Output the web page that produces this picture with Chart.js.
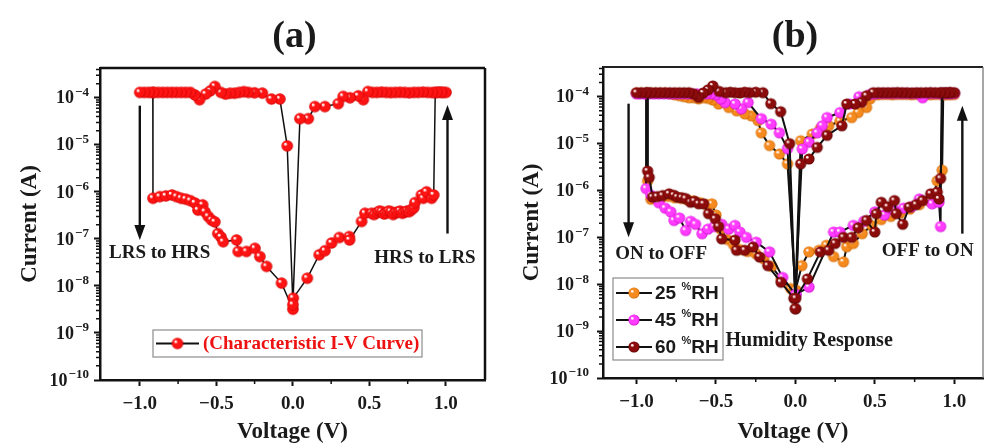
<!DOCTYPE html>
<html><head><meta charset="utf-8">
<script src="https://cdn.jsdelivr.net/npm/chart.js@4.4.1/dist/chart.umd.min.js"></script>
<style>
html,body{margin:0;padding:0;background:#fff;}
#wrap{position:relative;width:990px;height:444px;overflow:hidden;background:#fff;}
canvas{position:absolute;top:0;}
#ca{left:0;} #cb{left:495px;}
</style></head><body>
<div id="wrap"><canvas id="ca" width="495" height="444"></canvas><canvas id="cb" width="495" height="444"></canvas></div>
<script>
// ---------------- data ----------------
const xTickValues = [-1.0, -0.5, 0.0, 0.5, 1.0];
const xTickLabels = ['\u22121.0', '\u22120.5', '0.0', '0.5', '1.0'];
const minorXTicks = [-0.75, -0.25, 0.25, 0.75];
const yTickValues = [1e-10, 1e-9, 1e-8, 1e-7, 1e-6, 1e-5, 1e-4];
const yTickBase = '10';
const yTickExps = ['\u221210', '\u22129', '\u22128', '\u22127', '\u22126', '\u22125', '\u22124'];
const minorYMult = [2, 3, 4, 5, 6, 7, 8, 9];
const xTitle = 'Voltage (V)';
const yTitle = 'Current (A)';

// Panel (a): single I-V loop
const labelA = '(Characteristic I-V Curve)';
const voltageA = [
 -0.915,
 -0.914,-0.87,-0.83,-0.79,-0.76,-0.73,-0.70,-0.67,-0.64,-0.59,-0.62,-0.575,-0.553,-0.531,-0.51,-0.49,-0.47,-0.455,-0.368,-0.357,-0.303,-0.248,-0.216,-0.172,-0.074,0.0,
 0.002,0.094,0.172,0.209,0.253,0.303,0.368,0.37,0.449,0.471,0.514,0.53,0.55,0.565,0.58,0.595,0.61,0.625,0.64,0.655,0.67,0.685,0.70,0.715,0.73,0.745,0.76,0.775,0.79,0.797,0.84,0.852,0.873,0.906,0.92,
 0.93,0.955,0.98,1.0,0.97,0.94,0.91,0.88,0.85,0.82,0.79,0.76,0.73,0.70,0.67,0.64,0.61,0.58,0.55,0.52,0.49,0.46,0.427,0.373,0.329,0.296,0.209,0.144,0.1,0.046,
 0.0,
 -0.037,-0.085,-0.14,-0.2,-0.25,-0.29,-0.32,-0.35,-0.38,-0.41,-0.44,-0.47,-0.51,-0.54,-0.57,-0.61,-0.64,-0.67,-0.70,-0.73,-0.76,-0.79,-0.82,-0.85,-0.88,-0.91,-0.94,-0.97,-1.0
];
const currentA = [
 1.3e-4,
 7.3e-7,7.9e-7,8.2e-7,8.6e-7,7.9e-7,7.3e-7,7.0e-7,6.5e-7,5.8e-7,5.3e-7,4.1e-7,3.8e-7,3.0e-7,2.5e-7,2.3e-7,1.3e-7,1.1e-7,8.7e-8,9.5e-8,5.4e-8,5.4e-8,6.3e-8,4.2e-8,2.6e-8,1.15e-8,3.2e-9,
 5.5e-9,1.46e-8,4.6e-8,5.6e-8,8.2e-8,1.07e-7,1.12e-7,9.5e-8,2.35e-7,3.5e-7,3.5e-7,3.3e-7,3.6e-7,3.9e-7,3.8e-7,3.4e-7,3.5e-7,3.9e-7,3.8e-7,3.3e-7,3.6e-7,3.7e-7,3.9e-7,3.5e-7,3.7e-7,3.9e-7,3.8e-7,4.2e-7,4.6e-7,5.9e-7,8.6e-7,7.3e-7,1.0e-6,7.3e-7,8.6e-7,
 1.3e-4,1.32e-4,1.3e-4,1.3e-4,1.31e-4,1.3e-4,1.29e-4,1.3e-4,1.32e-4,1.3e-4,1.3e-4,1.28e-4,1.3e-4,1.31e-4,1.3e-4,1.29e-4,1.3e-4,1.32e-4,1.3e-4,1.3e-4,1.36e-4,9.1e-5,1.1e-4,1.0e-4,1.07e-4,7.5e-5,6.5e-5,6.5e-5,3.6e-5,3.6e-5,
 4.0e-9,
 9.5e-6,9.4e-5,9.4e-5,1.26e-4,1.28e-4,1.3e-4,1.35e-4,1.3e-4,1.25e-4,1.25e-4,1.2e-4,1.3e-4,1.74e-4,1.4e-4,1.2e-4,9.1e-5,1.15e-4,1.3e-4,1.3e-4,1.3e-4,1.3e-4,1.3e-4,1.3e-4,1.3e-4,1.3e-4,1.3e-4,1.3e-4,1.3e-4,1.3e-4
];

// Panel (b): humidity response
const labelsB = ['25 %RH', '45 %RH', '60 %RH'];
const voltage25 = [
 -0.93,
 -0.93,-0.91,-0.88,-0.84,-0.80,-0.76,-0.72,-0.68,-0.64,-0.60,-0.56,-0.526,-0.50,-0.47,-0.43,-0.39,-0.35,-0.30,-0.25,-0.20,-0.15,-0.09,-0.03,0.0,
 0.0,0.04,0.085,0.147,0.195,0.24,0.302,0.323,0.364,0.42,0.48,0.54,0.60,0.66,0.72,0.78,0.84,0.87,0.892,0.923,
 0.93,0.955,0.98,1.0,0.97,0.94,0.91,0.88,0.85,0.82,0.79,0.76,0.73,0.70,0.67,0.64,0.61,0.58,0.55,0.52,0.49,
 0.47,0.447,0.395,0.354,0.28,0.209,0.157,0.106,0.033,
 0.0,
 -0.05,-0.101,-0.163,-0.215,-0.236,-0.278,-0.319,-0.37,-0.42,-0.484,-0.52,-0.55,-0.58,-0.61,-0.64,-0.67,-0.70,-0.73,-0.76,-0.79,-0.82,-0.85,-0.88,-0.91,-0.94,-0.97,-1.0
];
const current25 = [
 1.2e-4,
 1.6e-6,6.5e-7,6.8e-7,7.2e-7,7.5e-7,7.0e-7,6.8e-7,6.3e-7,6.0e-7,5.5e-7,5.0e-7,5.2e-7,3.0e-7,1.5e-7,9.0e-8,7.0e-8,5.5e-8,5.0e-8,4.5e-8,3.5e-8,2.4e-8,1.3e-8,8.1e-9,7.4e-9,
 7.4e-9,2.5e-8,4.9e-8,5.3e-8,6.8e-8,3.9e-8,3.0e-8,6.3e-8,7.4e-8,1.2e-7,1.8e-7,2.4e-7,2.8e-7,3.3e-7,4.0e-7,5.0e-7,6.0e-7,8.0e-7,1.6e-6,2.7e-6,
 1.12e-4,1.12e-4,1.12e-4,1.12e-4,1.12e-4,1.1e-4,1.12e-4,1.12e-4,1.1e-4,1.12e-4,1.12e-4,1.12e-4,1.1e-4,1.12e-4,1.12e-4,1.12e-4,1.1e-4,1.12e-4,1.12e-4,1.1e-4,1.1e-4,
 9.0e-5,5.9e-5,4.6e-5,3.6e-5,3.0e-5,2.4e-5,2.1e-5,1.6e-5,1.15e-5,
 7.4e-9,
 3.7e-6,6.0e-6,9.1e-6,1.7e-5,3.1e-5,3.9e-5,4.3e-5,5.0e-5,5.9e-5,7.0e-5,8.5e-5,9.2e-5,9.5e-5,9.0e-5,9.5e-5,9.5e-5,1.0e-4,1.05e-4,1.1e-4,1.15e-4,1.2e-4,1.2e-4,1.2e-4,1.2e-4,1.2e-4,1.2e-4,1.2e-4
];
const voltage45 = [
 -0.94,
 -0.94,-0.909,-0.86,-0.82,-0.785,-0.764,-0.73,-0.691,-0.66,-0.629,-0.588,-0.55,-0.51,-0.464,-0.42,-0.381,-0.35,-0.309,-0.247,-0.163,-0.081,0.0,
 0.003,0.085,0.24,0.28,0.364,0.43,0.5,0.56,0.62,0.68,0.73,0.78,0.86,0.903,0.913,
 0.92,0.95,0.975,1.0,0.97,0.94,0.91,0.88,0.85,0.82,0.80,0.77,0.74,0.71,0.68,0.65,0.62,0.59,0.56,0.53,0.50,0.47,
 0.40,0.34,0.28,0.199,0.168,0.137,0.085,0.043,
 0.0,
 -0.05,-0.101,-0.153,-0.215,-0.298,-0.34,-0.38,-0.443,-0.47,-0.50,-0.53,-0.56,-0.59,-0.62,-0.65,-0.68,-0.71,-0.74,-0.77,-0.80,-0.83,-0.86,-0.89,-0.92,-0.95,-0.98,-1.0
];
const current45 = [
 1.15e-4,
 1.1e-6,7.9e-7,5.5e-7,4.2e-7,3.5e-7,2.3e-7,2.6e-7,1.4e-7,2.2e-7,1.9e-7,1.2e-7,1.5e-7,1.7e-7,1.9e-7,1.5e-7,1.8e-7,1.3e-7,1.0e-7,7.9e-8,4.9e-8,1.4e-8,6.0e-9,
 6.0e-9,8.7e-9,1.3e-7,1.3e-7,1.8e-7,2.2e-7,3.5e-7,3.0e-7,3.8e-7,4.2e-7,4.5e-7,6.6e-7,5.2e-7,5.6e-7,1.7e-7,
 1.18e-4,1.18e-4,1.18e-4,1.18e-4,1.18e-4,1.18e-4,1.18e-4,1.18e-4,1.18e-4,1.18e-4,9.5e-5,1.18e-4,1.18e-4,1.18e-4,1.18e-4,1.18e-4,1.18e-4,1.18e-4,1.18e-4,1.18e-4,1.15e-4,1.12e-4,
 1.0e-4,7.0e-5,4.6e-5,3.6e-5,2.4e-5,1.7e-5,1.07e-5,7.7e-6,
 6.0e-9,
 7.8e-6,1.7e-5,2.6e-5,3.4e-5,7.5e-5,5.5e-5,7.0e-5,7.5e-5,9.0e-5,1.1e-4,1.15e-4,1.15e-4,1.15e-4,1.15e-4,1.15e-4,1.15e-4,1.15e-4,1.15e-4,1.15e-4,1.15e-4,1.15e-4,1.15e-4,1.15e-4,1.15e-4,1.15e-4,1.15e-4,1.15e-4
];
const voltage60 = [
 -0.93,
 -0.93,-0.92,-0.899,-0.87,-0.836,-0.795,-0.765,-0.743,-0.715,-0.691,-0.66,-0.635,-0.609,-0.578,-0.547,-0.505,-0.484,-0.464,-0.381,-0.371,-0.319,-0.267,-0.226,-0.174,-0.091,-0.01,0.0,
 0.002,0.075,0.157,0.209,0.25,0.302,0.354,0.395,0.447,0.499,0.509,0.54,0.58,0.623,0.634,0.675,0.716,0.76,0.80,0.851,0.892,0.903,0.913,
 0.925,0.95,0.975,1.0,0.97,0.94,0.91,0.88,0.85,0.82,0.79,0.76,0.73,0.70,0.67,0.64,0.61,0.58,0.55,0.52,0.49,
 0.447,0.416,0.375,0.323,0.292,0.199,0.137,0.085,0.033,
 0.0,
 -0.037,-0.093,-0.155,-0.205,-0.25,-0.29,-0.32,-0.35,-0.38,-0.41,-0.44,-0.48,-0.52,-0.55,-0.58,-0.61,-0.64,-0.67,-0.70,-0.73,-0.76,-0.79,-0.82,-0.85,-0.88,-0.91,-0.94,-0.97,-1.0
];
const current60 = [
 1.22e-4,
 2.6e-6,1.9e-6,7.2e-7,7.4e-7,7.8e-7,8.5e-7,7.9e-7,7.2e-7,7.0e-7,6.7e-7,5.6e-7,5.9e-7,5.2e-7,5.2e-7,3.2e-7,2.5e-7,1.7e-7,9.3e-8,8.7e-8,5.3e-8,5.3e-8,6.2e-8,3.8e-8,2.5e-8,1.1e-8,5.0e-9,3.0e-9,
 5.0e-9,1.3e-8,4.9e-8,5.3e-8,7.4e-8,1.0e-7,1.0e-7,1.6e-7,2.3e-7,1.3e-7,3.2e-7,5.6e-7,4.5e-7,6.1e-7,3.2e-7,1.9e-7,4.4e-7,5.0e-7,6.1e-7,8.5e-7,9.2e-7,6.6e-7,1.8e-6,
 1.22e-4,1.22e-4,1.23e-4,1.22e-4,1.22e-4,1.21e-4,1.22e-4,1.22e-4,1.23e-4,1.22e-4,1.22e-4,1.22e-4,1.21e-4,1.22e-4,1.22e-4,1.23e-4,1.22e-4,1.22e-4,1.22e-4,1.22e-4,1.22e-4,
 1.05e-4,7.6e-5,7.0e-5,7.0e-5,2.4e-5,1.5e-5,8.3e-6,4.7e-6,3.7e-6,
 3.0e-9,
 1.0e-5,4.8e-5,7.1e-5,1.22e-4,1.25e-4,1.22e-4,1.25e-4,1.2e-4,1.22e-4,1.25e-4,1.22e-4,1.3e-4,1.7e-4,1.4e-4,1.2e-4,9.7e-5,1.15e-4,1.22e-4,1.22e-4,1.22e-4,1.22e-4,1.22e-4,1.22e-4,1.22e-4,1.22e-4,1.22e-4,1.22e-4,1.22e-4,1.22e-4
];

// ---------------- helpers ----------------
const SERIF = '"Liberation Serif", "Times New Roman", Times, serif';
const SANS = '"Liberation Sans", Arial, Helvetica, sans-serif';
const INK = '#1a1a1a';

function sphere(base, edge, hi, r) {
  const s = Math.ceil(r * 2 + 2);
  const c = document.createElement('canvas');
  c.width = s; c.height = s;
  const g = c.getContext('2d');
  const cx = s / 2, cy = s / 2;
  const grad = g.createRadialGradient(cx - r * 0.35, cy - r * 0.35, r * 0.05, cx, cy, r);
  grad.addColorStop(0, hi);
  grad.addColorStop(0.3, base);
  grad.addColorStop(0.8, base);
  grad.addColorStop(1, edge);
  g.fillStyle = grad;
  g.beginPath(); g.arc(cx, cy, r, 0, Math.PI * 2); g.fill();
  g.fillStyle = 'rgba(255,240,240,0.9)';
  g.beginPath(); g.arc(cx - r * 0.32, cy - r * 0.32, r * 0.22, 0, Math.PI * 2); g.fill();
  return c;
}
function pts(v, c) {
  const n = Math.min(v.length, c.length);
  if (v.length !== c.length) console.warn('length mismatch', v.length, c.length);
  const out = [];
  for (let i = 0; i < n; i++) out.push({x: v[i], y: c[i]});
  return out;
}

function makeScales(o) {
  return {
    x: {
      type: 'linear', min: o.xmin, max: o.xmax,
      afterBuildTicks: s => { s.ticks = xTickValues.map(v => ({value: v})); },
      afterFit: s => { s.height = o.xHeight; },
      ticks: {
        callback: v => { const i = xTickValues.indexOf(v); return i >= 0 ? xTickLabels[i] : ''; },
        font: {family: SERIF, size: 19, weight: 'bold'}, color: INK, padding: 7, maxRotation: 0, autoSkip: false
      },
      grid: {display: true, drawOnChartArea: false, drawTicks: true, tickLength: 6, tickWidth: 2, tickColor: '#111'},
      border: {display: true, width: 2.5, color: '#111'},
      title: {display: true, text: xTitle, font: {family: SERIF, size: 23, weight: 'bold', lineHeight: 1}, color: INK, padding: {top: 0, bottom: 0}}
    },
    y: {
      type: 'logarithmic', min: 1e-10, max: 4.3e-4,
      afterBuildTicks: s => { s.ticks = yTickValues.map(v => ({value: v})); },
      afterFit: s => { s.width = o.yWidth; },
      ticks: {
        // labels are laid out by Chart.js and painted (with a true superscript) by the overlay plugin
        callback: v => { const i = yTickValues.indexOf(v); return i >= 0 ? yTickBase + yTickExps[i] : ''; },
        font: {family: SERIF, size: 18, weight: 'bold'}, color: 'rgba(0,0,0,0)', padding: o.yPad, autoSkip: false
      },
      grid: {display: true, drawOnChartArea: false, drawTicks: true, tickLength: 6, tickWidth: 2, tickColor: '#111'},
      border: {display: true, width: 2.5, color: '#111'},
      title: {display: true, text: yTitle, font: {family: SERIF, size: 23, weight: 'bold', lineHeight: 1}, color: INK, padding: {top: o.yTitlePad, bottom: 0}}
    }
  };
}

function makeOverlay(cfg) {
  return {
    id: 'overlay',
    afterDraw(chart) {
      const {ctx, chartArea: ca} = chart;
      const xs = chart.scales.x, ys = chart.scales.y;
      ctx.save();
      // minor ticks
      ctx.strokeStyle = '#111'; ctx.lineWidth = 1.5;
      ctx.beginPath();
      minorXTicks.forEach(v => { const px = xs.getPixelForValue(v); ctx.moveTo(px, ca.bottom); ctx.lineTo(px, ca.bottom + 4); });
      yTickValues.forEach(d => minorYMult.forEach(m => {
        const v = d * m; if (v < ys.max) { const py = ys.getPixelForValue(v); ctx.moveTo(ca.left - 4, py); ctx.lineTo(ca.left, py); }
      }));
      ctx.stroke();
      // y tick labels: 10 with superscript exponent
      ctx.fillStyle = INK; ctx.textAlign = 'left'; ctx.textBaseline = 'middle';
      yTickValues.forEach((v, i) => {
        const py = ys.getPixelForValue(v);
        ctx.font = 'bold 18px ' + SERIF; const wb = ctx.measureText(yTickBase).width;
        ctx.font = 'bold 13px ' + SERIF; const we = ctx.measureText(yTickExps[i]).width;
        const R = ca.left - cfg.yLabelGap;
        ctx.font = 'bold 18px ' + SERIF; ctx.fillText(yTickBase, R - wb - we - 1, py + 1);
        ctx.font = 'bold 13px ' + SERIF; ctx.fillText(yTickExps[i], R - we, py - 5);
      });
      // frame top / right
      ctx.strokeStyle = cfg.frameTop.color; ctx.lineWidth = cfg.frameTop.width;
      ctx.beginPath(); ctx.moveTo(ca.left, ca.top); ctx.lineTo(ca.right, ca.top); ctx.stroke();
      ctx.strokeStyle = cfg.frameRight.color; ctx.lineWidth = cfg.frameRight.width;
      ctx.beginPath(); ctx.moveTo(ca.right, ca.top); ctx.lineTo(ca.right, ca.bottom); ctx.stroke();
      // panel title
      ctx.fillStyle = INK; ctx.font = 'bold 38px ' + SERIF; ctx.textAlign = 'center'; ctx.textBaseline = 'middle';
      ctx.fillText(cfg.title, (ca.left + ca.right) / 2 + 2, 37);
      // arrows
      cfg.arrows.forEach(a => {
        const px = xs.getPixelForValue(a.x), p0 = ys.getPixelForValue(a.from), p1 = ys.getPixelForValue(a.to);
        const dir = Math.sign(p1 - p0), head = 15, hw = 5.5;
        ctx.strokeStyle = '#111'; ctx.lineWidth = 2.4;
        ctx.beginPath(); ctx.moveTo(px, p0); ctx.lineTo(px, p1 - dir * head * 0.7); ctx.stroke();
        ctx.fillStyle = '#111';
        ctx.beginPath(); ctx.moveTo(px, p1); ctx.lineTo(px - hw, p1 - dir * head); ctx.lineTo(px + hw, p1 - dir * head); ctx.closePath(); ctx.fill();
      });
      // notes
      cfg.notes.forEach(n => {
        ctx.font = 'bold ' + n.size + 'px ' + SERIF; ctx.fillStyle = INK;
        ctx.textAlign = n.align; ctx.textBaseline = 'middle';
        ctx.fillText(n.text, xs.getPixelForValue(n.x), ys.getPixelForValue(n.y));
      });
      // legend
      const L = cfg.legend;
      const x0 = ca.left + L.dx, y0 = ca.top + L.dy;
      ctx.fillStyle = '#fff'; ctx.fillRect(x0, y0, L.w, L.h);
      ctx.strokeStyle = '#8c8c8c'; ctx.lineWidth = 1.2; ctx.strokeRect(x0, y0, L.w, L.h);
      const dss = chart.data.datasets;
      dss.forEach((ds, i) => {
        const cy = y0 + L.rows[i];
        ctx.strokeStyle = '#111'; ctx.lineWidth = 2.2;
        ctx.beginPath(); ctx.moveTo(x0 + L.l0, cy); ctx.lineTo(x0 + L.l1, cy); ctx.stroke();
        const sp = ds.pointStyle;
        ctx.drawImage(sp, x0 + (L.l0 + L.l1) / 2 - sp.width / 2, cy - sp.height / 2);
        ctx.textAlign = 'left'; ctx.textBaseline = 'middle'; ctx.fillStyle = L.color;
        if (L.split) {
          const parts = ds.label.split('%');
          ctx.font = 'bold ' + L.size + 'px ' + L.font;
          let tx = x0 + L.tx;
          ctx.fillText(parts[0], tx, cy + 1); tx += ctx.measureText(parts[0]).width;
          ctx.font = 'bold 11px ' + L.font;
          ctx.fillText('%', tx, cy - 6); tx += ctx.measureText('%').width;
          ctx.font = 'bold ' + L.size + 'px ' + L.font;
          ctx.fillText(parts[1], tx, cy + 1);
        } else {
          ctx.font = 'bold ' + L.size + 'px ' + L.font;
          ctx.fillText(ds.label, x0 + L.tx, cy + 1);
        }
      });
      ctx.restore();
    }
  };
}

const common = {
  responsive: false, animation: false, devicePixelRatio: 1, events: [],
  plugins: {legend: {display: false}, tooltip: {enabled: false}, title: {display: false}}
};

// ---------------- chart (a) ----------------
const redBall = sphere('#ff1414', '#c80000', '#ffd6d6', 5.8);
new Chart(document.getElementById('ca'), {
  type: 'line',
  data: {datasets: [{
    label: labelA, data: pts(voltageA, currentA),
    borderColor: '#111', borderWidth: 1.5, pointStyle: redBall, pointRadius: 5, pointHoverRadius: 5, fill: false, tension: 0
  }]},
  options: Object.assign({}, common, {
    layout: {padding: {left: 0, right: 10, top: 68, bottom: 0}},
    scales: makeScales({xmin: -1.26, xmax: 1.255, xHeight: 64, yWidth: 100, yPad: 5, yTitlePad: 19})
  }),
  plugins: [makeOverlay({
    title: '(a)', yLabelGap: 11,
    frameTop: {color: '#111', width: 2.5}, frameRight: {color: '#111', width: 2.5},
    arrows: [{x: -1.0, from: 6.8e-5, to: 9.5e-8}, {x: 1.01, from: 1.3e-7, to: 7e-5}],
    notes: [
      {text: 'LRS to HRS', x: -0.87, y: 5.0e-8, size: 19, align: 'center'},
      {text: 'HRS to LRS', x: 0.863, y: 4.0e-8, size: 19, align: 'center'}
    ],
    legend: {dx: 53, dy: 262, w: 269, h: 27, rows: [13.5], l0: 3, l1: 46, tx: 50, size: 19, font: SERIF, color: '#ee1111', split: false}
  })]
});

// ---------------- chart (b) ----------------
const orangeBall = sphere('#f58a1f', '#c96400', '#ffe2bf', 5.6);
const magentaBall = sphere('#ff3cff', '#c800c8', '#ffd9ff', 5.6);
const maroonBall = sphere('#8c0c0c', '#5a0000', '#f0a8a8', 5.6);
new Chart(document.getElementById('cb'), {
  type: 'line',
  data: {datasets: [
    {label: labelsB[0], data: pts(voltage25, current25), order: 3, borderColor: '#111', borderWidth: 2, pointStyle: orangeBall, pointRadius: 5, fill: false, tension: 0},
    {label: labelsB[1], data: pts(voltage45, current45), order: 2, borderColor: '#111', borderWidth: 2, pointStyle: magentaBall, pointRadius: 5, fill: false, tension: 0},
    {label: labelsB[2], data: pts(voltage60, current60), order: 1, borderColor: '#111', borderWidth: 2, pointStyle: maroonBall, pointRadius: 5, fill: false, tension: 0}
  ]},
  options: Object.assign({}, common, {
    layout: {padding: {left: 0, right: 2, top: 67, bottom: 0}},
    scales: makeScales({xmin: -1.211, xmax: 1.18, xHeight: 66, yWidth: 108, yPad: 8, yTitlePad: 26})
  }),
  plugins: [makeOverlay({
    title: '(b)', yLabelGap: 14,
    frameTop: {color: '#222', width: 2}, frameRight: {color: '#777', width: 1.3},
    arrows: [{x: -1.05, from: 7.1e-5, to: 1.0e-7}, {x: 1.05, from: 1.2e-7, to: 6.4e-5}],
    notes: [
      {text: 'ON to OFF', x: -0.845, y: 4.4e-8, size: 19, align: 'center'},
      {text: 'OFF to ON', x: 0.832, y: 5.0e-8, size: 19, align: 'center'},
      {text: 'Humidity Response', x: -0.44, y: 6.2e-10, size: 20, align: 'left'}
    ],
    legend: {dx: 10, dy: 211, w: 110, h: 82, rows: [15, 42, 69], l0: 3, l1: 39, tx: 42, size: 19, font: SANS, color: INK, split: true}
  })]
});
</script>
</body></html>
